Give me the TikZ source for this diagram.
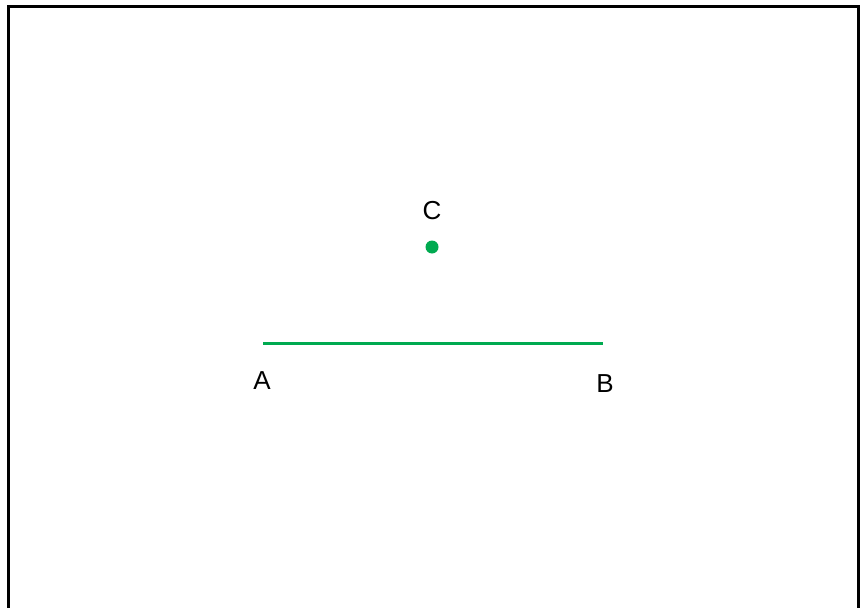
\documentclass[tikz,border=0pt]{standalone}
\usepackage{fontspec}
\setmainfont{Liberation Sans}
\definecolor{ptgreen}{RGB}{0,170,80}
\begin{document}
\begin{tikzpicture}[x=1pt,y=-1pt,
  lbl/.style={inner sep=0pt,font=\fontsize{26}{31}\selectfont},
  seg/.style={draw=ptgreen,line width=3pt},
  frame/.style={draw=black,line width=3pt}]
\useasboundingbox (0,0) rectangle (861,607);
\clip (0,0) rectangle (861,607);
\draw[frame] (8.5,620) -- (8.5,6.5) -- (858.5,6.5) -- (858.5,620);
\coordinate (a) at (263,343);
\coordinate (b) at (603,343);
\draw[seg] (a) -- (b);
\fill[ptgreen] (432,247) circle (6.5);
\node[lbl] (la) at (262,381) {A};
\node[lbl] (lb) at (605,384) {B};
\node[lbl] (lc) at (432,211) {C};
\end{tikzpicture}
\end{document}
